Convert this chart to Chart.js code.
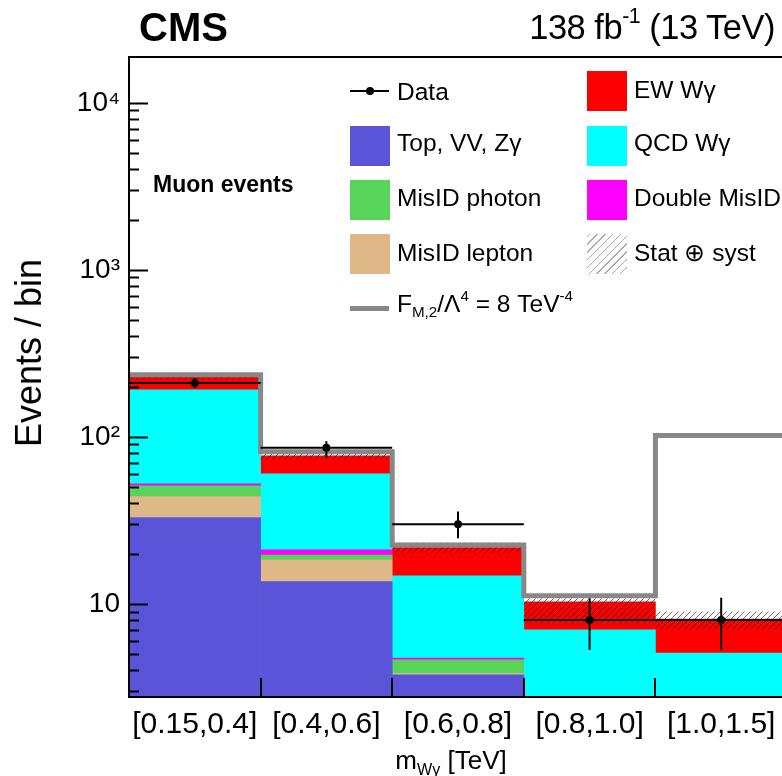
<!DOCTYPE html>
<html>
<head>
<meta charset="utf-8">
<script src="https://cdn.jsdelivr.net/npm/chart.js@4.4.1/dist/chart.umd.min.js"></script>
<style>
    html, body { margin: 0; padding: 0; background: #fff; overflow: hidden; }
    #wrap { position: relative; width: 782px; height: 776px; overflow: hidden;
            font-family: "Liberation Sans", Arial, sans-serif; color: #000; }
    #plot { position: absolute; left: 0; top: 0; }
    .txt { position: absolute; white-space: nowrap; line-height: 1; }
    .txt sub, .txt sup { font-size: 0.62em; line-height: 0; }
    .txt sub { vertical-align: -0.35em; }
    .txt sup { vertical-align: 0.75em; }
    .leg { font-size: 24.5px; }
    .box { position: absolute; width: 40px; height: 40px; }
</style>
</head>
<body>
<div id="wrap">
    <canvas id="plot" width="800" height="776"></canvas>

    <div class="txt" style="left:139px;top:7px;font-size:40px;font-weight:bold">CMS</div>
    <div class="txt" style="right:7px;top:10px;font-size:34.5px;letter-spacing:-0.5px">138 fb<sup>-1</sup> (13 TeV)</div>
    <div class="txt" style="left:153px;top:173px;font-size:23px;font-weight:bold">Muon events</div>
    <div class="txt" style="left:29px;top:353px;font-size:36px;transform:translate(-50%,-50%) rotate(-90deg)">Events / bin</div>
    <div class="txt" style="left:451px;top:747px;font-size:26px;transform:translateX(-50%)">m<sub>Wγ</sub> [TeV]</div>

    <!-- legend, left column -->
    <div style="position:absolute;left:350px;top:90px;width:39px;height:2px;background:#000"></div>
    <div style="position:absolute;left:366px;top:87px;width:8px;height:8px;border-radius:50%;background:#000"></div>
    <div class="txt leg" style="left:397px;top:80px">Data</div>
    <div class="box" style="left:350px;top:126px;background:#5954d8"></div>
    <div class="txt leg" style="left:397px;top:131px">Top, VV, Zγ</div>
    <div class="box" style="left:350px;top:180px;background:#58d45a"></div>
    <div class="txt leg" style="left:397px;top:186px">MisID photon</div>
    <div class="box" style="left:350px;top:234px;background:#deb887"></div>
    <div class="txt leg" style="left:397px;top:241px">MisID lepton</div>
    <div style="position:absolute;left:350px;top:306px;width:39px;height:5px;background:#888"></div>
    <div class="txt leg" style="left:397px;top:292px">F<sub>M,2</sub>/Λ<sup>4</sup> = 8 TeV<sup>-4</sup></div>

    <!-- legend, right column -->
    <div class="box" style="left:587px;top:71px;background:#ff0000"></div>
    <div class="txt leg" style="left:634px;top:78px">EW Wγ</div>
    <div class="box" style="left:587px;top:126px;background:#00ffff"></div>
    <div class="txt leg" style="left:634px;top:131px">QCD Wγ</div>
    <div class="box" style="left:587px;top:180px;background:#ff00ff"></div>
    <div class="txt leg" style="left:634px;top:186px">Double MisID</div>
    <div class="box" style="left:587px;top:234px;background:repeating-linear-gradient(-45deg, transparent 0 4.5px, #aaa 4.5px 5.5px)"></div>
    <div class="txt leg" style="left:634px;top:241px">Stat ⊕ syst</div>
</div>

<script>
    // m(W gamma) bins, muon channel
    var bins = ['[0.15,0.4]', '[0.4,0.6]', '[0.6,0.8]', '[0.8,1.0]', '[1.0,1.5]'];

    // background / signal yields per bin, bottom of the stack first
    var topVVZg     = [32.9, 13.6, 3.76, 1.6, 1.2];
    var misidLepton = [11.0, 4.7, 0.06, 0.15, 0.1];
    var misidPhoton = [7.0, 1.3, 0.80, 0.6, 0.4];
    var doubleMisid = [1.4, 1.5, 0.11, 0.1, 0.05];
    var qcdWg       = [138.7, 38.9, 10.0, 4.54, 3.32];
    var ewWg        = [37.0, 16.9, 7.0, 3.31, 3.03];

    // stat+syst band on the total prediction
    var bandLow  = [219, 73, 20.1, 7.7, 7.0];
    var bandHigh = [237, 81, 23.3, 10.8, 9.0];

    // aQGC prediction, F_M2/Lambda^4 = 8 TeV^-4
    var signalFM2 = [235, 81.3, 22.5, 11.2, 102];

    // observed data with error bars
    var dataObs  = [210, 86, 30, 8, 8];
    var dataLow  = [196, 75, 24.7, 5.3, 5.3];
    var dataHigh = [225, 94, 35.7, 10.8, 10.9];

    var yMin = 2.77, yMax = 18800;
    var yTickText = {1: '10', 2: '10²', 3: '10³', 4: '10⁴'};

    // diagonal hatch for the uncertainty band
    var hatchCanvas = document.createElement('canvas');
    hatchCanvas.width = 6;
    hatchCanvas.height = 6;
    var hc = hatchCanvas.getContext('2d');
    hc.strokeStyle = 'rgba(40,40,40,0.7)';
    hc.lineWidth = 1;
    hc.beginPath();
    hc.moveTo(0, 6); hc.lineTo(6, 0);
    hc.moveTo(-1, 1); hc.lineTo(1, -1);
    hc.moveTo(5, 7); hc.lineTo(7, 5);
    hc.stroke();

    var overlays = {
        id: 'overlays',
        beforeDatasetDraw: function (chart, args) {
            if (args.meta.type !== 'line') return;
            var ctx = chart.ctx, a = chart.chartArea, x = chart.scales.x, y = chart.scales.y;
            var half = (x.getPixelForValue(1) - x.getPixelForValue(0)) / 2;
            ctx.save();
            ctx.beginPath();
            ctx.rect(a.left, a.top, a.right - a.left, a.bottom - a.top);
            ctx.clip();

            ctx.fillStyle = ctx.createPattern(hatchCanvas, 'repeat');
            for (var i = 0; i < bins.length; i++) {
                var cx = x.getPixelForValue(i);
                var y1 = y.getPixelForValue(bandHigh[i]), y2 = y.getPixelForValue(bandLow[i]);
                ctx.fillRect(cx - half, y1, 2 * half, y2 - y1);
            }

            ctx.strokeStyle = '#888888';
            ctx.lineWidth = 5;
            ctx.lineJoin = 'miter';
            ctx.beginPath();
            for (var i = 0; i < bins.length; i++) {
                var cx = x.getPixelForValue(i), py = y.getPixelForValue(signalFM2[i]);
                if (i === 0) ctx.moveTo(cx - half, py); else ctx.lineTo(cx - half, py);
                ctx.lineTo(cx + half, py);
            }
            ctx.stroke();

            ctx.strokeStyle = '#000';
            ctx.lineWidth = 2;
            ctx.beginPath();
            for (var i = 0; i < bins.length; i++) {
                var cx = x.getPixelForValue(i), py = y.getPixelForValue(dataObs[i]);
                ctx.moveTo(cx - half, py);
                ctx.lineTo(cx + half, py);
                ctx.moveTo(cx, y.getPixelForValue(dataHigh[i]));
                ctx.lineTo(cx, y.getPixelForValue(dataLow[i]));
            }
            ctx.stroke();
            ctx.restore();
        },
        afterDatasetsDraw: function (chart) {
            var ctx = chart.ctx, a = chart.chartArea, x = chart.scales.x, y = chart.scales.y;
            var half = (x.getPixelForValue(1) - x.getPixelForValue(0)) / 2;
            ctx.save();
            ctx.strokeStyle = '#000';
            ctx.lineWidth = 2;
            ctx.strokeRect(a.left, a.top, a.right - a.left, a.bottom - a.top);

            ctx.beginPath();
            for (var e = 0; e <= 4; e++) {
                for (var k = 1; k <= 9; k++) {
                    var v = k * Math.pow(10, e);
                    if (v < yMin || v > yMax) continue;
                    var py = Math.round(y.getPixelForValue(v)) + 0.5;
                    ctx.moveTo(a.left, py);
                    ctx.lineTo(a.left + (k === 1 ? 19 : 10), py);
                }
            }
            for (var i = 1; i < bins.length; i++) {
                var px = Math.round(x.getPixelForValue(i) - half);
                ctx.moveTo(px, a.bottom);
                ctx.lineTo(px, a.bottom - 19);
            }
            ctx.stroke();
            ctx.restore();
        }
    };

    function stackSet(label, values, color) {
        return {
            type: 'bar', label: label, data: values, backgroundColor: color,
            borderWidth: 0, barPercentage: 1, categoryPercentage: 1, order: 1
        };
    }

    new Chart(document.getElementById('plot').getContext('2d'), {
        type: 'bar',
        data: {
            labels: bins,
            datasets: [
                stackSet('Top, VV, Zγ', topVVZg, '#5954d8'),
                stackSet('MisID lepton', misidLepton, '#deb887'),
                stackSet('MisID photon', misidPhoton, '#58d45a'),
                stackSet('Double MisID', doubleMisid, '#ff00ff'),
                stackSet('QCD Wγ', qcdWg, '#00ffff'),
                stackSet('EW Wγ', ewWg, '#ff0000'),
                {
                    type: 'line', label: 'Data', data: dataObs, stack: 'data', order: 0,
                    showLine: false, pointRadius: 4, pointHoverRadius: 4,
                    pointBackgroundColor: '#000', pointBorderColor: '#000', pointBorderWidth: 0
                }
            ]
        },
        options: {
            responsive: false,
            animation: false,
            devicePixelRatio: 1,
            layout: { padding: { left: 0, top: 57, right: 13, bottom: 0 } },
            plugins: { legend: { display: false }, tooltip: { enabled: false } },
            scales: {
                x: {
                    stacked: true,
                    offset: true,
                    grid: { display: false, drawTicks: false },
                    border: { display: false },
                    ticks: { color: '#000', padding: 10, font: { family: 'Liberation Sans', size: 30 } },
                    afterFit: function (s) { s.height = 79; }
                },
                y: {
                    type: 'logarithmic',
                    stacked: true,
                    min: yMin,
                    max: yMax,
                    grid: { display: false, drawTicks: false },
                    border: { display: false },
                    ticks: {
                        autoSkip: false,
                        color: '#000',
                        padding: 9,
                        font: { family: 'Liberation Sans', size: 28 },
                        callback: function (v) {
                            var e = Math.log10(v);
                            return Math.abs(e - Math.round(e)) < 1e-6 ? (yTickText[Math.round(e)] || '') : '';
                        }
                    },
                    afterFit: function (s) { s.width = 129; }
                }
            }
        },
        plugins: [overlays]
    });
</script>
</body>
</html>
